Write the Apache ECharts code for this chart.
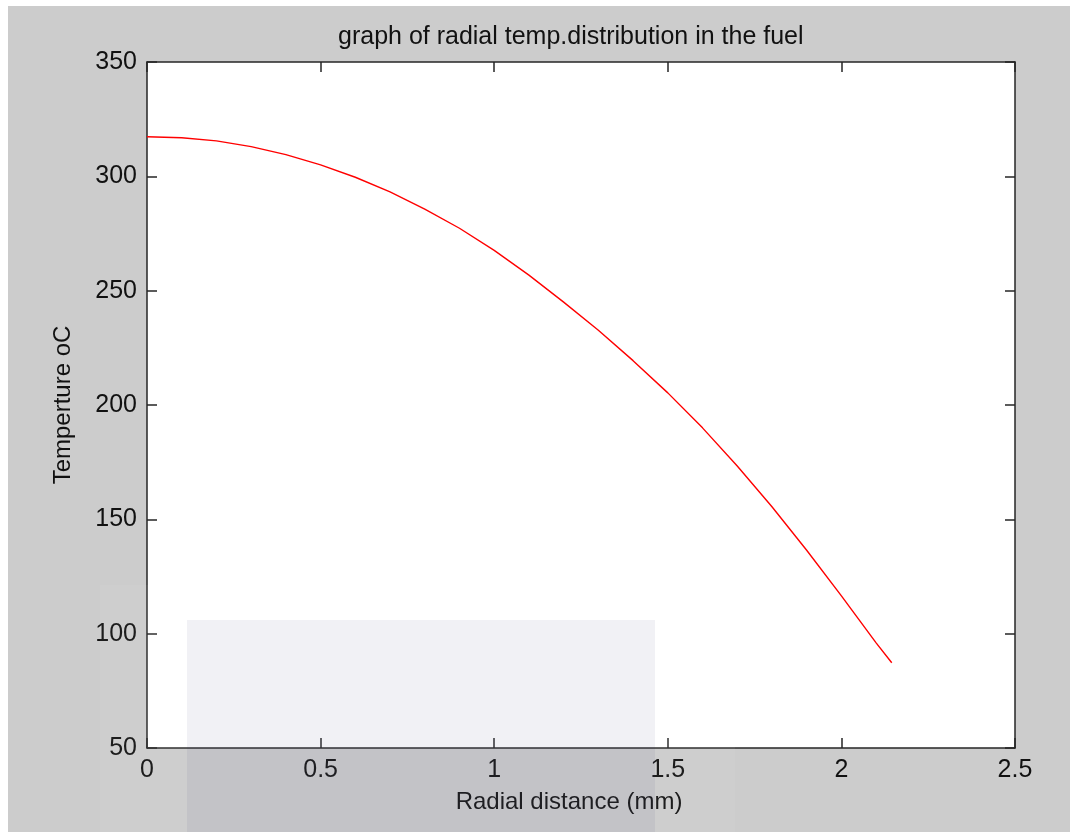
<!DOCTYPE html>
<html>
<head>
<meta charset="utf-8">
<script src="https://cdn.jsdelivr.net/npm/echarts@6/dist/echarts.min.js"></script>
<style>
  html, body { margin: 0; padding: 0; background: #ffffff; }
  #chart { position: absolute; left: 8px; top: 6px; width: 1062px; height: 826px; }
</style>
</head>
<body>
<div id="chart"></div>
<script>
// Data
const radius = [0, 0.1, 0.2, 0.3, 0.4, 0.5, 0.6, 0.7, 0.8, 0.9, 1.0, 1.1, 1.2, 1.3, 1.4, 1.5, 1.6, 1.7, 1.8, 1.9, 2.0, 2.1, 2.145];
const temperature = [317.3, 316.9, 315.5, 313.0, 309.5, 305.0, 299.6, 293.2, 285.7, 277.3, 267.6, 256.8, 245.0, 232.7, 219.4, 205.3, 190.0, 173.3, 155.5, 136.5, 116.5, 96.0, 87.3];
const xTicks = [0, 0.5, 1, 1.5, 2, 2.5];
const yTicks = [50, 100, 150, 200, 250, 300, 350];
const titleText = 'graph of radial temp.distribution in the fuel';
const xName = 'Radial distance (mm)';
const yName = 'Temperture oC';

const FONT = '"Liberation Sans", Arial, sans-serif';
const TXT = '#111111';
const AX = '#262626';

const points = radius.map((r, i) => [r, temperature[i]]);

const chart = echarts.init(document.getElementById('chart'), null, { renderer: 'canvas' });

const xBase = {
  type: 'value', min: xTicks[0], max: xTicks[xTicks.length - 1], interval: 0.5,
  splitLine: { show: false },
  axisLine: { show: true, onZero: false, lineStyle: { color: AX, width: 1.5 } },
  axisTick: { show: true, inside: true, length: 10, lineStyle: { color: AX, width: 1.5 } }
};
const yBase = {
  type: 'value', min: yTicks[0], max: yTicks[yTicks.length - 1], interval: 50,
  splitLine: { show: false },
  axisLine: { show: true, onZero: false, lineStyle: { color: AX, width: 1.5 } },
  axisTick: { show: true, inside: true, length: 10, lineStyle: { color: AX, width: 1.5 } }
};

chart.setOption({
  backgroundColor: '#cccccc',
  animation: false,
  title: {
    text: titleText,
    left: 325, top: 14,
    textStyle: { fontFamily: FONT, fontSize: 25, fontWeight: 'normal', color: TXT }
  },
  grid: {
    left: 139, top: 56, width: 868, height: 686,
    show: true, backgroundColor: '#ffffff', borderWidth: 0
  },
  xAxis: [
    Object.assign({}, xBase, {
      position: 'bottom',
      name: xName, nameLocation: 'middle', nameGap: 42,
      nameTextStyle: { fontFamily: FONT, fontSize: 24, color: TXT, padding: [0, 24, 0, 0] },
      axisLabel: {
        show: true, margin: 10, fontFamily: FONT, fontSize: 25, color: TXT,
        formatter: v => String(v)
      }
    }),
    Object.assign({}, xBase, { position: 'top', axisLabel: { show: false } })
  ],
  yAxis: [
    Object.assign({}, yBase, {
      position: 'left',
      name: yName, nameLocation: 'middle', nameGap: 72,
      nameTextStyle: { fontFamily: FONT, fontSize: 24, color: TXT },
      axisLabel: { show: true, margin: 10, fontFamily: FONT, fontSize: 25, color: TXT }
    }),
    Object.assign({}, yBase, { position: 'right', axisLabel: { show: false } })
  ],
  series: [{
    type: 'line',
    data: points,
    xAxisIndex: 0, yAxisIndex: 0,
    showSymbol: false, symbol: 'none',
    smooth: false,
    lineStyle: { color: '#ff0000', width: 1.4 },
    z: 3
  }],
  graphic: [
    { type: 'rect', z: 100, silent: true,
      shape: { x: 92, y: 579, width: 635, height: 247 },
      style: { fill: 'rgba(255,255,255,0.05)' } },
    { type: 'rect', z: 101, silent: true,
      shape: { x: 179, y: 614, width: 468, height: 212 },
      style: { fill: 'rgba(60,60,110,0.07)' } }
  ]
});
</script>
</body>
</html>
